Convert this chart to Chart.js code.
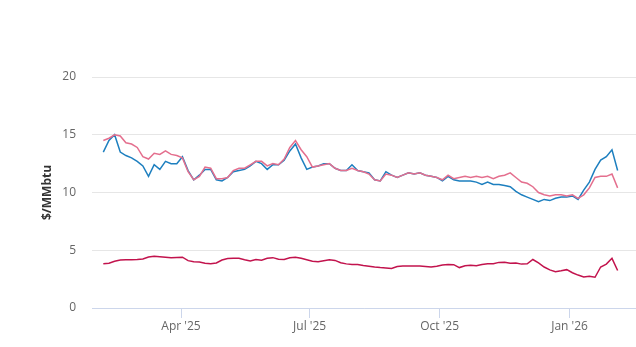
<!DOCTYPE html>
<html>
<head>
<meta charset="utf-8">
<title>Gas prices</title>
<script src="https://cdn.jsdelivr.net/npm/chart.js@4.4.0/dist/chart.umd.min.js"></script>
<style>
  html, body { margin: 0; padding: 0; background: #ffffff; }
  #wrap { width: 636px; height: 347px; }
</style>
</head>
<body>
<div id="wrap"><canvas id="priceChart" width="636" height="347"></canvas></div>
<script>
// sample dates (every 4 days)
const dates = [
  '2025-02-05','2025-02-09','2025-02-13','2025-02-17','2025-02-21','2025-02-25',
  '2025-03-01','2025-03-05','2025-03-09','2025-03-13','2025-03-17','2025-03-21','2025-03-25','2025-03-29',
  '2025-04-02','2025-04-06','2025-04-10','2025-04-14','2025-04-18','2025-04-22','2025-04-26','2025-04-30',
  '2025-05-04','2025-05-08','2025-05-12','2025-05-16','2025-05-20','2025-05-24','2025-05-28',
  '2025-06-01','2025-06-05','2025-06-09','2025-06-13','2025-06-17','2025-06-21','2025-06-25','2025-06-29',
  '2025-07-03','2025-07-07','2025-07-11','2025-07-15','2025-07-19','2025-07-23','2025-07-27','2025-07-31',
  '2025-08-04','2025-08-08','2025-08-12','2025-08-16','2025-08-20','2025-08-24','2025-08-28',
  '2025-09-01','2025-09-05','2025-09-09','2025-09-13','2025-09-17','2025-09-21','2025-09-25','2025-09-29',
  '2025-10-03','2025-10-07','2025-10-11','2025-10-15','2025-10-19','2025-10-23','2025-10-27','2025-10-31',
  '2025-11-04','2025-11-08','2025-11-12','2025-11-16','2025-11-20','2025-11-24','2025-11-28',
  '2025-12-02','2025-12-06','2025-12-10','2025-12-14','2025-12-18','2025-12-22','2025-12-26','2025-12-30',
  '2026-01-03','2026-01-07','2026-01-11','2026-01-15','2026-01-19','2026-01-23','2026-01-27','2026-01-31',
  '2026-02-04'
];

// $/MMbtu
const asiaSpot = [
  13.5, 14.5, 15.0, 13.5, 13.2, 13.0, 12.7, 12.3, 11.4, 12.4, 12.0, 12.7, 12.5, 12.5,
  13.1, 11.9, 11.1, 11.5, 12.0, 12.0, 11.1, 11.0, 11.3, 11.8, 11.9, 12.0, 12.3, 12.7,
  12.5, 12.0, 12.4, 12.4, 12.8, 13.6, 14.2, 13.0, 12.0, 12.2, 12.3, 12.5, 12.5, 12.1,
  11.9, 11.9, 12.4, 11.9, 11.8, 11.7, 11.1, 11.0, 11.8, 11.5, 11.3, 11.5, 11.7, 11.6,
  11.7, 11.5, 11.4, 11.3, 11.0, 11.4, 11.1, 11.0, 11.0, 11.0, 10.9, 10.7, 10.9, 10.7,
  10.7, 10.6, 10.5, 10.1, 9.8, 9.6, 9.4, 9.2, 9.4, 9.3, 9.5, 9.6, 9.6, 9.7,
  9.4, 10.2, 10.9, 12.0, 12.8, 13.1, 13.7, 11.9
];

const europeSpot = [
  14.5, 14.7, 15.0, 14.9, 14.3, 14.2, 13.9, 13.1, 12.9, 13.4, 13.3, 13.6, 13.3, 13.2,
  13.0, 11.8, 11.1, 11.4, 12.2, 12.1, 11.2, 11.2, 11.3, 11.9, 12.1, 12.1, 12.4, 12.7,
  12.7, 12.3, 12.5, 12.4, 12.9, 13.9, 14.5, 13.7, 13.1, 12.2, 12.3, 12.4, 12.5, 12.1,
  11.9, 11.9, 12.1, 11.9, 11.8, 11.6, 11.1, 11.0, 11.6, 11.5, 11.3, 11.5, 11.7, 11.6,
  11.7, 11.5, 11.4, 11.3, 11.1, 11.5, 11.2, 11.3, 11.4, 11.3, 11.4, 11.3, 11.4, 11.2,
  11.4, 11.5, 11.7, 11.3, 10.9, 10.8, 10.5, 10.0, 9.8, 9.7, 9.8, 9.8, 9.7, 9.8,
  9.5, 9.8, 10.4, 11.3, 11.4, 11.4, 11.6, 10.4
];

const henryHub = [
  3.83, 3.88, 4.05, 4.15, 4.18, 4.18, 4.20, 4.25, 4.42, 4.48, 4.44, 4.40, 4.36, 4.38,
  4.40, 4.10, 4.00, 3.98, 3.88, 3.83, 3.90, 4.15, 4.28, 4.30, 4.30, 4.18, 4.08, 4.20,
  4.14, 4.30, 4.36, 4.22, 4.20, 4.35, 4.40, 4.30, 4.18, 4.05, 4.00, 4.10, 4.18, 4.12,
  3.92, 3.82, 3.77, 3.77, 3.68, 3.62, 3.55, 3.50, 3.47, 3.43, 3.60, 3.63, 3.63, 3.63,
  3.63, 3.60, 3.54, 3.62, 3.72, 3.77, 3.75, 3.50, 3.65, 3.70, 3.65, 3.76, 3.83, 3.83,
  3.95, 3.96, 3.88, 3.90, 3.80, 3.83, 4.20, 3.90, 3.55, 3.30, 3.15, 3.22, 3.32, 3.05,
  2.85, 2.68, 2.75, 2.66, 3.55, 3.80, 4.30, 3.25
];

const tickDates = ['2025-04-01', '2025-07-01', '2025-10-01', '2026-01-01'];
const tickLabels = ["Apr '25", "Jul '25", "Oct '25", "Jan '26"];
const yTicks = [0, 5, 10, 15, 20];

const axisStart = '2025-01-01';
const xRange = ['2025-01-28', '2026-02-17'];

const DAY = 86400000;
function toDay(iso) {
    return (Date.parse(iso) - Date.parse(axisStart)) / DAY;
}

const xDays = dates.map(toDay);
const tickDays = tickDates.map(toDay);

function toPoints(values) {
    return values.map((v, i) => ({ x: xDays[i], y: v }));
}

function lineSet(label, values, color, order) {
    return {
        label: label,
        data: toPoints(values),
        borderColor: color,
        backgroundColor: color,
        borderWidth: 1.5,
        pointRadius: 0,
        tension: 0,
        order: order
    };
}

const font = { family: '"Open Sans", sans-serif', size: 12 };

new Chart(document.getElementById('priceChart'), {
    type: 'line',
    data: {
        datasets: [
            lineSet('Asia spot', asiaSpot, '#1d7fbf', 2),
            lineSet('Europe spot', europeSpot, '#e46f8e', 1),
            lineSet('Henry Hub', henryHub, '#c2134d', 0)
        ]
    },
    options: {
        responsive: false,
        animation: false,
        devicePixelRatio: 1,
        layout: { padding: { left: 40, top: 77, right: 0, bottom: 0 } },
        plugins: {
            legend: { display: false },
            tooltip: { enabled: false }
        },
        scales: {
            x: {
                type: 'linear',
                min: toDay(xRange[0]),
                max: toDay(xRange[1]),
                afterBuildTicks: (scale) => {
                    scale.ticks = tickDays.map(v => ({ value: v }));
                },
                afterFit: (scale) => { scale.height = 39; },
                grid: {
                    drawOnChartArea: false,
                    drawTicks: true,
                    tickLength: 10,
                    color: '#ccd6eb'
                },
                border: { display: true, color: '#ccd6eb' },
                ticks: {
                    autoSkip: false,
                    maxRotation: 0,
                    padding: 1,
                    color: '#666666',
                    font: font,
                    callback: (value) => {
                        const i = tickDays.indexOf(value);
                        return i >= 0 ? tickLabels[i] : '';
                    }
                }
            },
            y: {
                min: yTicks[0],
                max: yTicks[yTicks.length - 1],
                afterBuildTicks: (scale) => {
                    scale.ticks = yTicks.map(v => ({ value: v }));
                },
                afterFit: (scale) => { scale.width = 52; },
                grid: { color: '#e6e6e6', drawTicks: false },
                border: { display: false },
                ticks: {
                    padding: 16,
                    color: '#666666',
                    font: font
                },
                title: {
                    display: true,
                    text: '$/MMbtu',
                    color: '#333333',
                    padding: 0,
                    font: { family: '"Open Sans", sans-serif', size: 12, weight: 'bold' }
                }
            }
        }
    }
});
</script>
</body>
</html>
